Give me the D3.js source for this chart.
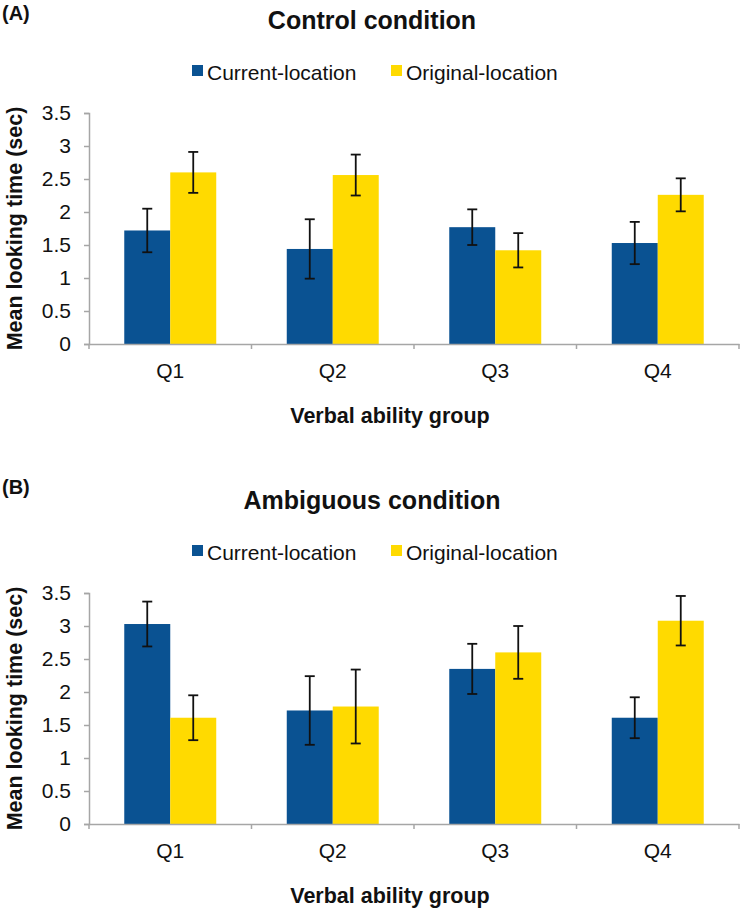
<!DOCTYPE html>
<html>
<head>
<meta charset="utf-8">
<script src="https://cdn.jsdelivr.net/npm/d3@7"></script>
<style>
  html, body { margin: 0; padding: 0; background: #fff; }
  svg { display: block; font-family: "Liberation Sans", Arial, sans-serif; }
</style>
</head>
<body>
<svg id="chart" width="744" height="909"></svg>
<script>
// ---- Data ----
const categories = ["Q1", "Q2", "Q3", "Q4"];
const seriesNames = ["Current-location", "Original-location"];
const yTicks = [0, 0.5, 1, 1.5, 2, 2.5, 3, 3.5];

const controlCurrent = [1.72, 1.44, 1.77, 1.53];
const controlCurrentErr = [0.33, 0.45, 0.27, 0.32];
const controlOriginal = [2.60, 2.56, 1.42, 2.26];
const controlOriginalErr = [0.31, 0.31, 0.26, 0.25];

const ambigCurrent = [3.03, 1.72, 2.35, 1.61];
const ambigCurrentErr = [0.34, 0.52, 0.38, 0.31];
const ambigOriginal = [1.61, 1.78, 2.60, 3.08];
const ambigOriginalErr = [0.34, 0.56, 0.40, 0.375];

const panels = [
  { tag: "(A)", title: "Control condition", values: [controlCurrent, controlOriginal], errs: [controlCurrentErr, controlOriginalErr] },
  { tag: "(B)", title: "Ambiguous condition", values: [ambigCurrent, ambigOriginal], errs: [ambigCurrentErr, ambigOriginalErr] }
];

// ---- Styles ----
const colors = ["#0A5292", "#FFDA00"];
const axisColor = "#A6A6A6";
const textColor = "#111";

const svg = d3.select("#chart");

const plotLeft = 89, plotRight = 739;
const offsets = [0, 480];

panels.forEach((p, pi) => {
  const oy = offsets[pi];
  const g = svg.append("g").attr("transform", `translate(0,${oy})`);

  const y = d3.scaleLinear().domain([0, 3.5]).range([344, 113]);
  const x0 = d3.scaleBand().domain(categories).range([plotLeft, plotRight])
    .paddingInner(0.434).paddingOuter(0.217);
  const x1 = d3.scaleBand().domain(seriesNames).range([0, x0.bandwidth()]);

  // tag and title
  g.append("text").attr("x", 2).attr("y", pi === 0 ? 20 : 14)
    .attr("font-size", 20).attr("font-weight", "bold").attr("fill", textColor).text(p.tag);
  g.append("text").attr("x", 372).attr("y", 29).attr("text-anchor", "middle")
    .attr("font-size", 25).attr("font-weight", "bold").attr("fill", textColor).text(p.title);

  // legend
  const legX = [192, 391];
  seriesNames.forEach((s, si) => {
    g.append("rect").attr("x", legX[si]).attr("y", 65).attr("width", 11).attr("height", 11).attr("fill", colors[si]);
    g.append("text").attr("x", legX[si] + 15).attr("y", 79.5).attr("font-size", 21)
      .attr("fill", textColor).text(s);
  });

  // bars
  seriesNames.forEach((s, si) => {
    g.append("g").selectAll("rect").data(categories).join("rect")
      .attr("x", c => x0(c) + x1(s))
      .attr("y", (c, i) => y(p.values[si][i]))
      .attr("width", x1.bandwidth())
      .attr("height", (c, i) => y(0) - y(p.values[si][i]))
      .attr("fill", colors[si]);
  });

  // error bars
  seriesNames.forEach((s, si) => {
    const eg = g.append("g").attr("stroke", "#111").attr("stroke-width", 1.8).attr("fill", "none");
    categories.forEach((c, i) => {
      const cx = x0(c) + x1(s) + x1.bandwidth() / 2;
      const v = p.values[si][i], e = p.errs[si][i];
      eg.append("line").attr("x1", cx).attr("x2", cx).attr("y1", y(v + e)).attr("y2", y(v - e));
      eg.append("line").attr("x1", cx - 5).attr("x2", cx + 5).attr("y1", y(v + e)).attr("y2", y(v + e));
      eg.append("line").attr("x1", cx - 5).attr("x2", cx + 5).attr("y1", y(v - e)).attr("y2", y(v - e));
    });
  });

  // y axis
  const yAxis = g.append("g").attr("transform", `translate(${plotLeft},0)`)
    .call(d3.axisLeft(y).tickValues(yTicks).tickFormat(d => String(d)).tickSize(5).tickPadding(13));
  yAxis.select(".domain").attr("stroke", axisColor).attr("stroke-width", 1.5);
  yAxis.selectAll(".tick line").attr("stroke", axisColor).attr("stroke-width", 1.5);
  yAxis.selectAll(".tick text").attr("font-size", 21).attr("fill", textColor)
    .attr("font-family", "Liberation Sans, Arial, sans-serif");

  // x axis (labels at centers, ticks at boundaries)
  const xAxis = g.append("g").attr("transform", `translate(0,${y(0)})`)
    .call(d3.axisBottom(x0).tickSize(0).tickPadding(19));
  xAxis.select(".domain").attr("stroke", axisColor).attr("stroke-width", 1.5);
  xAxis.selectAll(".tick text").attr("font-size", 21).attr("fill", textColor)
    .attr("font-family", "Liberation Sans, Arial, sans-serif");
  const step = x0.step();
  const bounds = d3.range(categories.length + 1).map(i => plotLeft + i * step);
  g.append("g").selectAll("line").data(bounds).join("line")
    .attr("x1", d => d).attr("x2", d => d)
    .attr("y1", y(0)).attr("y2", y(0) + 5)
    .attr("stroke", axisColor).attr("stroke-width", 1.5);

  // axis titles
  g.append("text").attr("x", 390).attr("y", 423).attr("text-anchor", "middle")
    .attr("font-size", 21.5).attr("font-weight", "bold").attr("fill", textColor).text("Verbal ability group");
  g.append("text").attr("transform", `translate(22,${(y(0) + y(3.5)) / 2}) rotate(-90)`)
    .attr("text-anchor", "middle").attr("font-size", 21.5).attr("font-weight", "bold")
    .attr("fill", textColor).text("Mean looking time (sec)");
});
</script>
</body>
</html>
